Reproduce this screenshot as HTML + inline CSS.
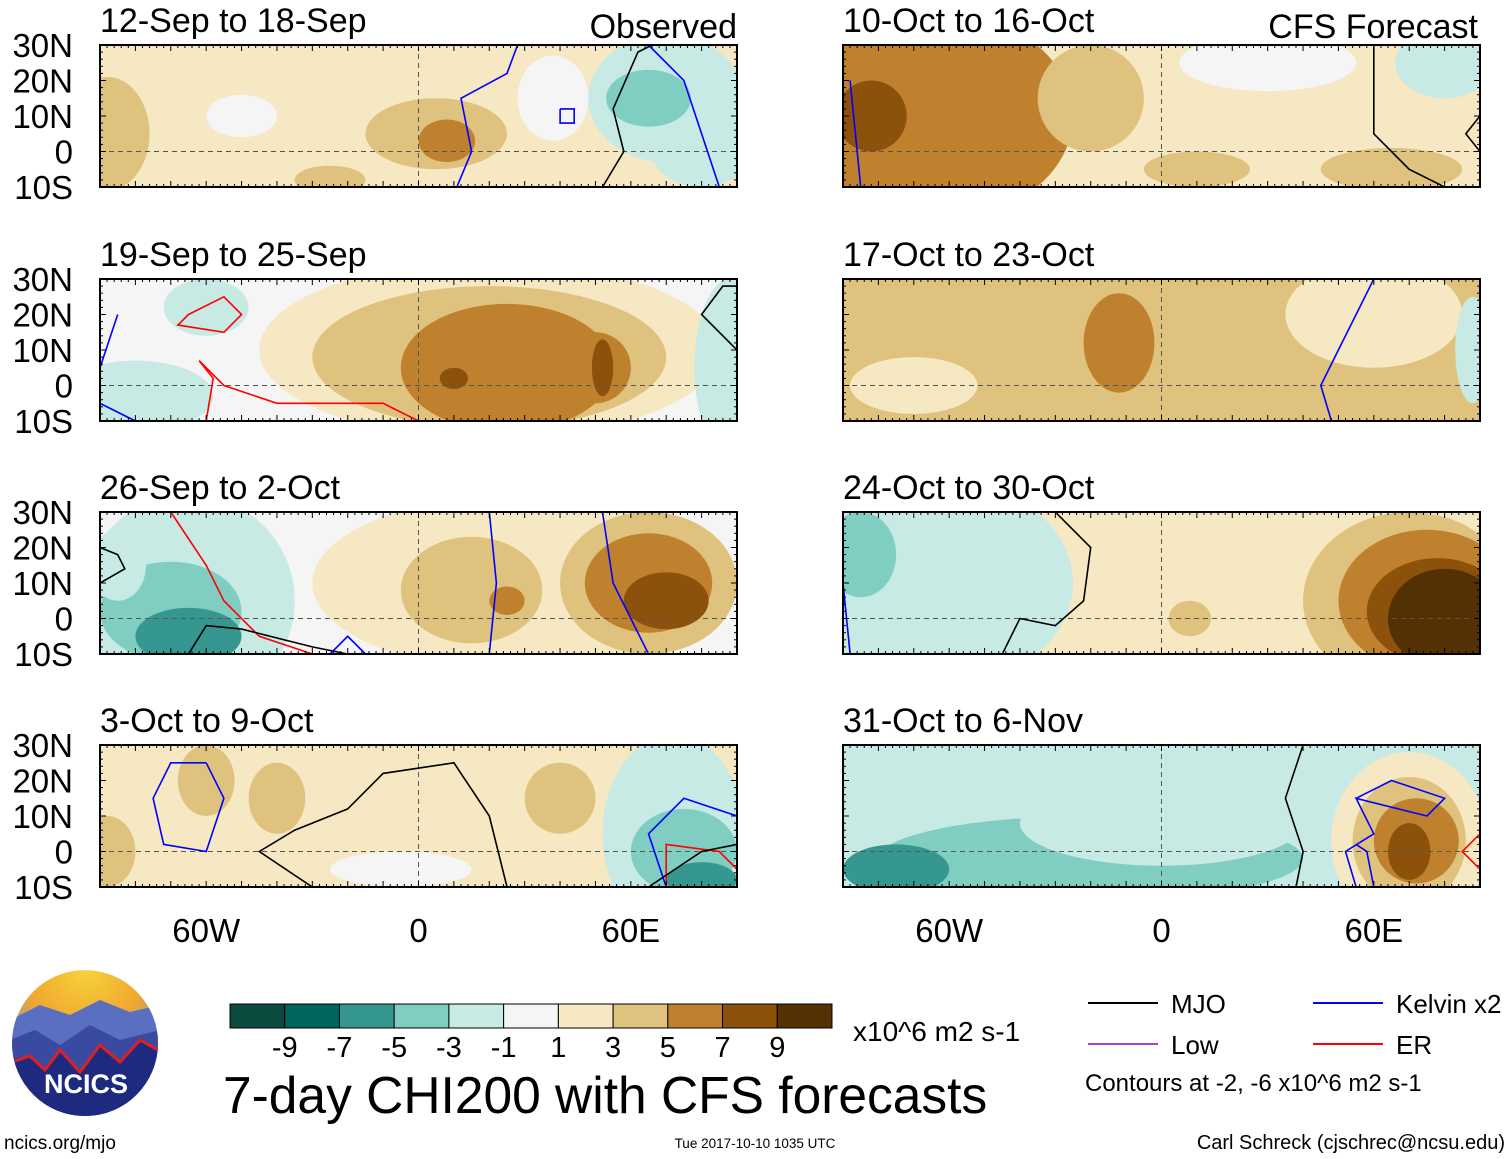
<!DOCTYPE html>
<html><head><meta charset="utf-8">
<style>
html,body{margin:0;padding:0;background:#fff;}
svg{display:block;font-family:"Liberation Sans",Arial,sans-serif;}
</style></head>
<body>
<svg id="chart" width="1510" height="1159" viewBox="0 0 1510 1159" xmlns="http://www.w3.org/2000/svg">
<defs>
  <radialGradient id="sky" cx="50%" cy="0%" r="80%">
    <stop offset="0" stop-color="#f7d23a"/><stop offset="0.5" stop-color="#f0a830"/><stop offset="1" stop-color="#7a8fd0"/>
  </radialGradient>
  <clipPath id="logoclip"><circle cx="85" cy="1043" r="73"/></clipPath>
</defs>
<g id="panels"></g>
<g id="legend"></g>
<g id="logo" clip-path="url(#logoclip)">
  <circle cx="85" cy="1043" r="73" fill="url(#sky)"/>
  <path d="M10,1020 L40,1005 L70,1015 L100,1000 L130,1012 L160,1005 L160,1120 L10,1120Z" fill="#5a6fc0"/>
  <path d="M10,1040 L35,1030 L60,1045 L90,1025 L120,1040 L160,1030 L160,1120 L10,1120Z" fill="#3a4aa0"/>
  <path d="M10,1060 L30,1055 L45,1070 L60,1050 L80,1072 L100,1045 L120,1062 L140,1040 L160,1050 L160,1120 L10,1120Z" fill="#1e2a80"/>
  <path d="M12,1062 L30,1056 L45,1070 L60,1050 L80,1072 L100,1045 L120,1062 L140,1040 L158,1050" fill="none" stroke="#e02020" stroke-width="3"/>
</g>
<text x="86" y="1093" text-anchor="middle" font-size="27" font-weight="bold" fill="#fff">NCICS</text>
</svg>
<script>
const levels = [-9,-7,-5,-3,-1,1,3,5,7,9];
const colors = ["#0b4a3e","#01665e","#35978f","#80cdc1","#c7eae5","#f5f5f5","#f6e8c3","#dfc27d","#bf812d","#8c510a","#543005"];
const tickLabels = ["-9","-7","-5","-3","-1","1","3","5","7","9"];
const latTicks = ["30N","20N","10N","0","10S"];
const latVals = [30,20,10,0,-10];
const lonTicks = ["60W","0","60E"];
const lonVals = [-60,0,60];
const titles = ["12-Sep to 18-Sep","19-Sep to 25-Sep","26-Sep to 2-Oct","3-Oct to 9-Oct","10-Oct to 16-Oct","17-Oct to 23-Oct","24-Oct to 30-Oct","31-Oct to 6-Nov"];
// blobs: [lonCenter, latCenter, lonRadius, latRadius, colorIndex]
const bgIndex = [6,5,5,6,6,7,6,4];
const blobs0 = [[-88,5,12,16,7],[-50,10,10,6,5],[-25,-8,10,4,7],[5,5,20,10,7],[8,3,8,6,8],[38,15,10,12,5],[70,15,22,18,4],[65,15,12,8,3],[80,0,14,10,4]];
const blobs1 = [[-80,-3,22,10,4],[-60,22,12,8,4],[20,10,65,25,6],[20,8,50,20,7],[25,5,30,18,8],[50,5,10,10,8],[52,5,3,8,9],[10,2,4,3,9],[88,5,10,25,4]];
const blobs2 = [[-65,5,30,30,4],[-70,2,20,14,3],[-65,-5,15,8,2],[-85,15,8,10,4],[30,10,60,25,6],[15,8,20,15,7],[25,5,5,4,8],[65,10,25,20,7],[65,10,18,14,8],[70,5,12,8,9]];
const blobs3 = [[-88,0,8,10,7],[-60,20,8,10,7],[-40,15,8,10,7],[40,15,10,10,7],[-5,-5,20,5,5],[72,5,20,28,4],[75,0,15,12,3],[80,-8,10,5,2]];
const blobs4 = [[-65,10,40,30,8],[-82,10,10,10,9],[-20,15,15,15,7],[30,25,25,8,5],[80,25,14,10,4],[10,-5,15,5,7],[65,-5,20,6,7]];
const blobs5 = [[-70,0,18,8,6],[60,20,25,15,6],[-12,12,10,14,8],[88,10,5,15,4]];
const blobs6 = [[-65,10,40,30,4],[-85,18,10,12,3],[60,10,40,30,6],[70,5,30,25,7],[75,5,25,20,8],[78,2,20,15,9],[80,0,16,14,10],[8,0,6,5,7]];
const blobs7 = [[-60,20,25,10,4],[-20,-2,60,12,3],[-75,-5,15,7,2],[0,8,40,12,4],[70,3,22,25,6],[70,3,16,18,7],[72,3,12,12,8],[70,0,6,8,9]];
const blobSets = [blobs0,blobs1,blobs2,blobs3,blobs4,blobs5,blobs6,blobs7];
const contours = [
 [["blue",[[10,-12],[15,0],[12,15],[25,22],[28,30]]],["blue",[[40,12],[40,8],[44,8],[44,12],[40,12]]],["black",[[52,-10],[58,0],[55,12],[62,28],[66,30]]],["blue",[[85,-10],[80,5],[75,20],[65,30]]]],
 [["red",[[-65,20],[-55,25],[-50,20],[-55,15],[-68,17],[-65,20]]],["red",[[-60,-10],[-58,2],[-62,7],[-55,0],[-40,-5],[-10,-5],[0,-10]]],["blue",[[-85,20],[-90,5]]],["blue",[[-80,-10],[-90,-5]]],["black",[[90,10],[80,20],[86,28],[90,28]]]],
 [["red",[[-70,30],[-60,15],[-55,5],[-45,-5],[-30,-10]]],["black",[[-90,20],[-85,18],[-83,14],[-90,10]]],["black",[[-65,-10],[-60,-2],[-50,-3],[-30,-8],[-20,-10]]],["blue",[[-25,-10],[-20,-5],[-15,-10]]],["blue",[[20,-10],[22,10],[20,30]]],["blue",[[52,30],[55,10],[60,0],[65,-10]]]],
 [["blue",[[-60,25],[-55,15],[-60,0],[-72,2],[-75,15],[-70,25],[-60,25]]],["black",[[-30,-10],[-45,0],[-35,6],[-20,12],[-10,22],[10,25],[20,10],[25,-10]]],["blue",[[90,10],[75,15],[65,5],[70,-10]]],["red",[[70,-10],[70,2],[85,0],[90,-5]]],["black",[[65,-10],[80,0],[90,2]]]],
 [["blue",[[-85,-10],[-88,20]]],["black",[[60,30],[60,5],[70,-5],[80,-10]]],["black",[[90,10],[86,5],[90,0]]]],
 [["blue",[[60,30],[50,10],[45,0],[48,-10]]]],
 [["black",[[-30,30],[-20,20],[-22,5],[-30,-2],[-40,0],[-45,-10]]],["blue",[[-88,-10],[-90,10]]]],
 [["black",[[40,30],[35,15],[40,0],[38,-10]]],["blue",[[55,-10],[52,0],[60,5],[55,15],[75,10],[80,15],[65,20],[55,15]]],["blue",[[60,-10],[58,0],[55,2]]],["red",[[90,5],[85,0],[90,-5]]]]
];
const colorMap = {black:"#000",blue:"#0000ff",red:"#ff0000"};

const NS="http://www.w3.org/2000/svg";
const root=document.getElementById('panels');
function mk(tag,attrs,parent){const e=document.createElementNS(NS,tag);for(const k in attrs)e.setAttribute(k,attrs[k]);(parent||root).appendChild(e);return e;}
const W=637,H=142;
const panelPos=[[100,45],[100,279],[100,512],[100,745],[843,45],[843,279],[843,512],[843,745]];
function xs(x0,lon){return x0+(lon+90)/180*W;}
function ys(y0,lat){return y0+(30-lat)/40*H;}

panelPos.forEach((p,i)=>{
  const [x0,y0]=p;
  const g=mk('g',{});
  
  
  const cp=mk('clipPath',{id:'cp'+i},g);
  mk('rect',{x:x0,y:y0,width:W,height:H},cp);
  const inner=mk('g',{'clip-path':'url(#cp'+i+')'},g);
  mk('rect',{x:x0,y:y0,width:W,height:H,fill:colors[bgIndex[i]]},inner);
  blobSets[i].forEach(b=>{
    const e=mk('ellipse',{cx:xs(x0,b[0]),cy:ys(y0,b[1]),rx:b[2]/180*W,ry:b[3]/40*H,fill:colors[b[4]]},inner);
    
    
  });
  mk('line',{x1:x0,x2:x0+W,y1:ys(y0,0),y2:ys(y0,0),stroke:'#555','stroke-dasharray':'5,4','stroke-width':1},inner);
  mk('line',{x1:xs(x0,0),x2:xs(x0,0),y1:y0,y2:y0+H,stroke:'#555','stroke-dasharray':'5,4','stroke-width':1},inner);
  contours[i].forEach(c=>{
    const d=c[1].map((pt,j)=>(j?'L':'M')+xs(x0,pt[0]).toFixed(1)+','+ys(y0,pt[1]).toFixed(1)).join(' ');
    const pl=mk('path',{d:d,fill:'none',stroke:colorMap[c[0]],'stroke-width':1.6},inner);
    
    
  });
  mk('rect',{x:x0,y:y0,width:W,height:H,fill:'none',stroke:'#000','stroke-width':2},g);
  for(let lon=-90;lon<=90;lon+=2){
    const len=lon%10===0?6:3;
    mk('line',{x1:xs(x0,lon),x2:xs(x0,lon),y1:y0,y2:y0+len,stroke:'#000','stroke-width':1},g);
    mk('line',{x1:xs(x0,lon),x2:xs(x0,lon),y1:y0+H,y2:y0+H-len,stroke:'#000','stroke-width':1},g);
  }
  for(let lat=-10;lat<=30;lat+=2){
    const len=lat%10===0?6:3;
    mk('line',{x1:x0,x2:x0+len,y1:ys(y0,lat),y2:ys(y0,lat),stroke:'#000','stroke-width':1},g);
    mk('line',{x1:x0+W,x2:x0+W-len,y1:ys(y0,lat),y2:ys(y0,lat),stroke:'#000','stroke-width':1},g);
  }
  const t=mk('text',{x:x0,y:y0-13,'font-size':34},g);t.textContent=titles[i];
  
  
  if(i<4){
    latVals.forEach((lv,k)=>{
      const tt=mk('text',{x:x0-27,y:ys(y0,lv)+12,'font-size':33,'text-anchor':'end'},g);tt.textContent=latTicks[k];
      
      
    });
  }
});
[[737,'Observed'],[1478,'CFS Forecast']].forEach(a=>{
  const t=mk('text',{x:a[0],y:38,'font-size':34,'text-anchor':'end'});t.textContent=a[1];
  
  
});
[100,843].forEach(x0=>{
  lonVals.forEach((lv,k)=>{
    const t=mk('text',{x:xs(x0,lv),y:942,'font-size':33,'text-anchor':'middle'});t.textContent=lonTicks[k];
    
    
  });
});
const cbX=230,cbY=1004,cbW=602,cbH=24,bw=cbW/colors.length;
const cb=mk('g',{});


colors.forEach((c,k)=>mk('rect',{x:cbX+k*bw,y:cbY,width:bw,height:cbH,fill:c,stroke:'#000','stroke-width':1},cb));
tickLabels.forEach((l,k)=>{
  const t=mk('text',{x:cbX+(k+1)*bw,y:1057,'font-size':29,'text-anchor':'middle'},cb);t.textContent=l;
});
const u=mk('text',{x:853,y:1041,'font-size':28});u.textContent='x10^6 m2 s-1';


const mt=mk('text',{x:223,y:1113,'font-size':51.5});mt.textContent='7-day CHI200 with CFS forecasts';


const legendNames=['MJO','Kelvin x2','Low','ER'];
const legendColors=['#000','#0000ff','#a040e0','#ff0000'];
legendNames.forEach((n,k)=>{
  const lx=k%2?1313:1088, ly=k<2?1003:1044;
  const lg=mk('g',{});
  
  
  mk('line',{x1:lx,x2:lx+70,y1:ly,y2:ly,stroke:legendColors[k],'stroke-width':2},lg);
  const t=mk('text',{x:lx+83,y:ly+10,'font-size':26},lg);t.textContent=n;
});
const cn=mk('text',{x:1085,y:1091,'font-size':24});cn.textContent='Contours at -2, -6 x10^6 m2 s-1';


const f1=mk('text',{x:4,y:1149,'font-size':19});f1.textContent='ncics.org/mjo';


const f2=mk('text',{x:755,y:1148,'font-size':13.5,'text-anchor':'middle'});f2.textContent='Tue 2017-10-10 1035 UTC';


const f3=mk('text',{x:1505,y:1149,'font-size':20,'text-anchor':'end'});f3.textContent='Carl Schreck (cjschrec@ncsu.edu)';


</script>
</body></html>
